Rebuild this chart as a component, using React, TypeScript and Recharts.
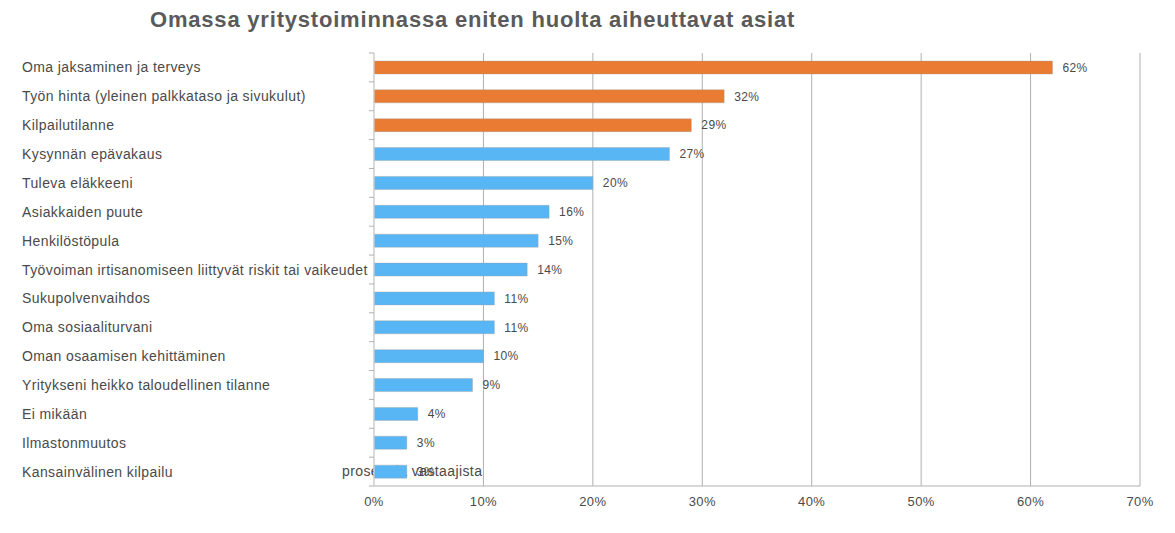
import React from 'react';
import { BarChart, Bar, XAxis, YAxis, CartesianGrid, Cell, LabelList } from 'recharts';

// Kyselyn vastaukset, prosenttia vastaajista
const categories = [
  'Oma jaksaminen ja terveys',
  'Työn hinta (yleinen palkkataso ja sivukulut)',
  'Kilpailutilanne',
  'Kysynnän epävakaus',
  'Tuleva eläkkeeni',
  'Asiakkaiden puute',
  'Henkilöstöpula',
  'Työvoiman irtisanomiseen liittyvät riskit tai vaikeudet',
  'Sukupolvenvaihdos',
  'Oma sosiaaliturvani',
  'Oman osaamisen kehittäminen',
  'Yritykseni heikko taloudellinen tilanne',
  'Ei mikään',
  'Ilmastonmuutos',
  'Kansainvälinen kilpailu',
];
const values = [62, 32, 29, 27, 20, 16, 15, 14, 11, 11, 10, 9, 4, 3, 3];
const highlighted = [true, true, true, false, false, false, false, false, false, false, false, false, false, false, false];
const xTicks = [0, 10, 20, 30, 40, 50, 60, 70];

const TITLE = 'Omassa yritystoiminnassa eniten huolta aiheuttavat asiat';
const AXIS_TITLE = 'prosenttia vastaajista';

const FONT = 'Liberation Sans, Arial, sans-serif';
const ORANGE = '#E97B32';
const BLUE = '#59B6F5';
const GRID = '#B0B0B0';
const TEXT = '#4a4a4a';

const W = 1175;
const H = 533;
const M = { top: 53, right: 35, bottom: 17, left: 0 };
const Y_AXIS_W = 374;
const X_AXIS_H = 30;
const PLOT_H = H - M.top - M.bottom - X_AXIS_H;
const BAND = PLOT_H / categories.length;

const data = categories.map((name, i) => ({ name, value: values[i], hi: highlighted[i] }));

const YTick = ({ y, payload, index }: any) => (
  <g>
    <line x1={Y_AXIS_W - 5} x2={Y_AXIS_W} y1={y - BAND / 2} y2={y - BAND / 2} stroke={GRID} />
    {index === categories.length - 1 && (
      <line x1={Y_AXIS_W - 5} x2={Y_AXIS_W} y1={y + BAND / 2} y2={y + BAND / 2} stroke={GRID} />
    )}
    <text x={22} y={y} dy={5} fill={TEXT} fontSize={14} letterSpacing={0.4} fontFamily={FONT}>
      {payload.value}
    </text>
  </g>
);

export default function App() {
  return (
    <div style={{ position: 'absolute', left: 0, top: 0, width: W, height: H, background: '#fff' }}>
      <div
        style={{
          position: 'absolute',
          left: 150,
          top: 7,
          fontFamily: FONT,
          fontWeight: 'bold',
          fontSize: 22,
          letterSpacing: 0.8,
          color: '#5a5a5a',
          whiteSpace: 'nowrap',
        }}
      >
        {TITLE}
      </div>
      {/* axis title sits behind the bars, as in the source image */}
      <div
        style={{
          position: 'absolute',
          left: 342,
          top: 463,
          fontFamily: FONT,
          fontSize: 14,
          letterSpacing: 0.4,
          color: TEXT,
          whiteSpace: 'nowrap',
        }}
      >
        {AXIS_TITLE}
      </div>
      <div style={{ position: 'absolute', left: 0, top: 0 }}>
        <BarChart width={W} height={H} data={data} layout="vertical" margin={M} barCategoryGap={0}>
          <CartesianGrid horizontal={false} stroke={GRID} />
          <XAxis
            type="number"
            domain={[0, 70]}
            ticks={xTicks}
            tickFormatter={(v) => `${v}%`}
            height={X_AXIS_H}
            stroke={GRID}
            tickLine={false}
            dy={3}
            tick={{ fill: TEXT, fontSize: 13, letterSpacing: 0.4, fontFamily: FONT }}
          />
          <YAxis
            type="category"
            dataKey="name"
            width={Y_AXIS_W}
            stroke="#DDD"
            tickLine={false}
            tick={<YTick />}
            interval={0}
          />
          <Bar dataKey="value" barSize={13} isAnimationActive={false} stroke="#9a9a9a" strokeOpacity={0.35}>
            {data.map((d, i) => (
              <Cell key={`cell-${i}`} fill={d.hi ? ORANGE : BLUE} />
            ))}
            <LabelList
              dataKey="value"
              position="right"
              offset={10}
              formatter={(v: any) => `${v}%`}
              fill={TEXT}
              fontSize={12}
              letterSpacing={0.4}
              fontFamily={FONT}
            />
          </Bar>
        </BarChart>
      </div>
    </div>
  );
}
